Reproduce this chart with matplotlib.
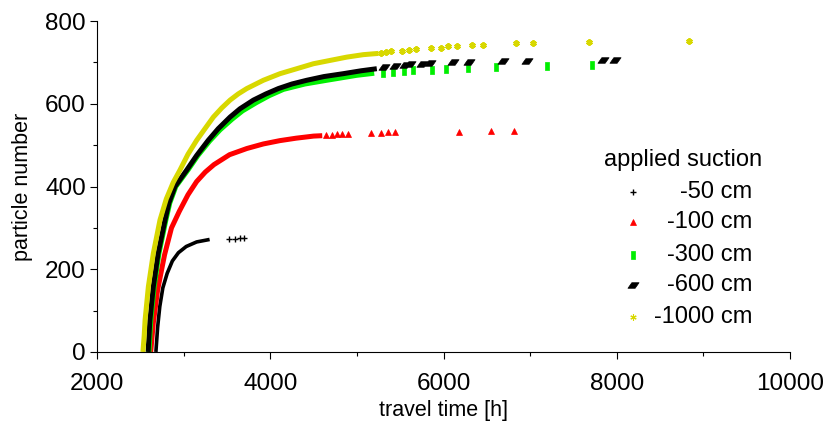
import numpy as np
import matplotlib.pyplot as plt
from matplotlib.path import Path

plt.rcParams['font.family'] = ['Liberation Sans', 'DejaVu Sans']

# values: dense part (drawn as a thick band) + sparse tail markers
t50 = [2680, 2700, 2725, 2760, 2810, 2870, 2940, 3030, 3150, 3300]
n50 = [0, 60, 110, 155, 190, 220, 240, 255, 266, 272]
t50_tail = [3520, 3590, 3645, 3695]
n50_tail = [273, 274, 275, 276]

t100 = [2620, 2650, 2700, 2780, 2860, 2950, 3050, 3150, 3250, 3350, 3530, 3730, 3920, 4110, 4300, 4500, 4600]
n100 = [0, 70, 150, 235, 300, 340, 380, 412, 435, 453, 477, 492, 503, 511, 517, 522, 523]
t100_tail = [4640, 4710, 4770, 4830, 4900, 5160, 5280, 5360, 5440, 6180, 6550, 6810]
n100_tail = [524, 525, 526, 527, 528, 529, 530, 531, 532, 533, 534, 535]

t300 = [2600, 2620, 2660, 2715, 2795, 2840, 2910, 3050, 3165, 3300, 3420, 3560, 3680, 3840, 3990, 4152, 4400, 4652, 4998, 5200]
n300 = [0, 75, 158, 238, 319, 360, 400, 440, 475, 510, 537, 563, 583, 603, 620, 635, 648, 657, 669, 674]
t300_tail = [5298, 5413, 5548, 5652, 5864, 6030, 6288, 6604, 7193, 7713]
n300_tail = [675, 677, 679, 681, 683, 685, 687, 689, 691, 693]

t600 = [2590, 2610, 2650, 2705, 2785, 2830, 2900, 3036, 3150, 3285, 3400, 3536, 3650, 3805, 3950, 4094, 4250, 4421, 4620, 4844, 5050, 5230]
n600 = [0, 75, 158, 238, 319, 360, 400, 440, 475, 512, 540, 568, 588, 609, 624, 637, 648, 657, 666, 673, 680, 685]
t600_tail = [5310, 5440, 5560, 5615, 5750, 5845, 6115, 6290, 6690, 6960, 7845, 7980]
n600_tail = [690, 692, 694, 696, 697, 698, 700, 701, 703, 704, 706, 707]

t1000 = [2530, 2545, 2555, 2593, 2650, 2727, 2800, 2880, 2958, 3050, 3151, 3250, 3343, 3440, 3536, 3630, 3729, 3920, 4113, 4306, 4498, 4690, 4883, 5075, 5250]
n1000 = [0, 40, 77, 158, 238, 319, 370, 410, 440, 478, 512, 541, 568, 590, 609, 624, 637, 657, 673, 685, 697, 705, 713, 719, 722]
t1000_tail = [5276, 5337, 5390, 5517, 5606, 5683, 5857, 5968, 6057, 6153, 6327, 6461, 6834, 7038, 7680, 8838]
n1000_tail = [723, 725, 727, 729, 731, 732, 735, 736, 739, 740, 742, 743, 746, 747, 750, 751]

labels = ['-50 cm', '-100 cm', '-300 cm', '-600 cm', '-1000 cm']

# marker shapes
rect = Path([(-0.2, -0.5), (0.2, -0.5), (0.2, 0.5), (-0.2, 0.5), (-0.2, -0.5)], closed=True)
para = Path([(-0.5, -0.25), (0.15, -0.25), (0.5, 0.25), (-0.15, 0.25), (-0.5, -0.25)], closed=True)

yel = '#d8d800'
series = [
    (t50, n50, t50_tail, n50_tail, 'black', '+', 5, 2.6, 1.0),
    (t100, n100, t100_tail, n100_tail, 'red', '^', 5, 3.6, 0.5),
    (t300, n300, t300_tail, n300_tail, '#00ee00', rect, 6, 3.6, 0.5),
    (t600, n600, t600_tail, n600_tail, 'black', para, 8, 3.6, 0.5),
    (t1000, n1000, t1000_tail, n1000_tail, yel, (6, 2, 0), 4.5, 3.6, 1.6),
]

fig = plt.figure(figsize=(8.29, 4.23), dpi=100)
ax = fig.add_axes([0.117, 0.168, 0.836, 0.782])

for t, n, tt, nt, c, m, ms, lw, mew in series:
    ax.plot(t, n, color=c, lw=lw, solid_capstyle='butt')
    ax.plot(tt, nt, ls='none', marker=m, ms=ms, color=c, mec=c, mew=mew)

ax.set_xlim(2000, 10000)
ax.set_ylim(0, 800)
ax.set_xticks([2000, 4000, 6000, 8000, 10000])
ax.set_xticks([3000, 5000, 7000, 9000], minor=True)
ax.set_yticks([0, 200, 400, 600, 800])
ax.set_yticks([100, 300, 500, 700], minor=True)
for s in ['top', 'right']:
    ax.spines[s].set_visible(False)
for s in ['left', 'bottom']:
    ax.spines[s].set_linewidth(0.8)
ax.tick_params(which='major', length=5, width=0.8, labelsize=17.5, direction='out', pad=3)
ax.tick_params(axis='x', which='major', pad=10)
ax.tick_params(which='minor', length=3, width=0.8, direction='out')
ax.set_xlabel('travel time [h]', fontsize=15.5, labelpad=4)
ax.set_ylabel('particle number', fontsize=15.5, labelpad=9)

# hand-made legend with right-aligned labels
ax.text(0.846, 0.58, 'applied suction', transform=ax.transAxes, fontsize=17,
        ha='center', va='center')
leg_y = [0.484, 0.394, 0.293, 0.202, 0.107]
for (t, n, tt, nt, c, m, ms, lw, mew), lab, yy in zip(series, labels, leg_y):
    lm = 0.8 if c == yel else mew
    ax.plot([0.773], [yy], transform=ax.transAxes, ls='none', marker=m, ms=ms,
            color=c, mec=c, mew=lm, clip_on=False)
    ax.text(0.945, yy, lab, transform=ax.transAxes, fontsize=17, ha='right', va='center')

fig.savefig('out.png', dpi=100)
